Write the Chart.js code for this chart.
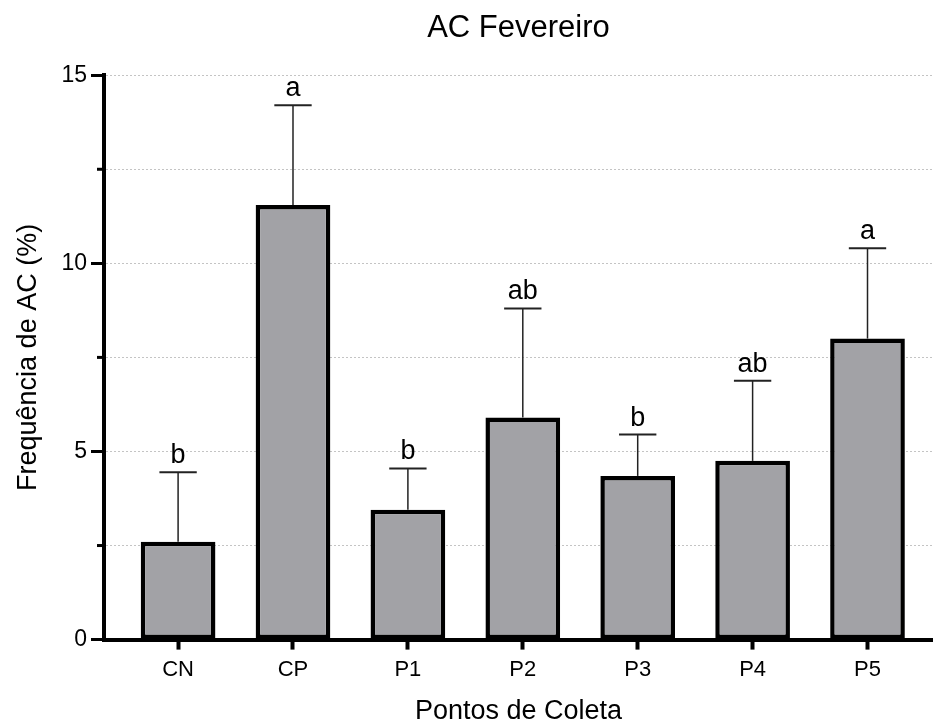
<!DOCTYPE html>
<html>
<head>
<meta charset="utf-8">
<title>AC Fevereiro</title>
<script src="https://cdn.jsdelivr.net/npm/chart.js@4"></script>
<style>
  html, body { margin: 0; padding: 0; background: #fff; }
  #chart { display: block; }
</style>
</head>
<body>
<canvas id="chart" width="933" height="725"></canvas>
<script>
// sampling points, mean frequency, SD and the letter groups
var labels = ['CN', 'CP', 'P1', 'P2', 'P3', 'P4', 'P5'];
var means = [2.6, 11.55, 3.45, 5.9, 4.35, 4.75, 8.0];
var sd = [1.85, 2.65, 1.1, 2.9, 1.1, 2.13, 2.4];
var groups = ['b', 'a', 'b', 'ab', 'b', 'ab', 'a'];
var yTicks = [0, 2.5, 5, 7.5, 10, 12.5, 15];

var FONT = '"Liberation Sans", Arial, Helvetica, sans-serif';
var BAR_FILL = '#a2a2a6';

// upper SD whiskers plus the letter above each one
var errorBars = {
  id: 'errorBars',
  afterDatasetsDraw: function (chart) {
    var ctx = chart.ctx;
    var y = chart.scales.y;
    var bars = chart.getDatasetMeta(0).data;
    ctx.save();
    bars.forEach(function (bar, i) {
      var top = y.getPixelForValue(means[i] + sd[i]);
      var half = bar.width / 4;
      ctx.strokeStyle = '#222';
      ctx.lineWidth = 1.5;
      ctx.beginPath();
      ctx.moveTo(bar.x, bar.y);
      ctx.lineTo(bar.x, top);
      ctx.stroke();
      ctx.lineWidth = 2;
      ctx.beginPath();
      ctx.moveTo(bar.x - half, top);
      ctx.lineTo(bar.x + half, top);
      ctx.stroke();
      ctx.fillStyle = '#000';
      ctx.font = '27px ' + FONT;
      ctx.textAlign = 'center';
      ctx.textBaseline = 'alphabetic';
      ctx.fillText(groups[i], bar.x, top - 9);
    });
    ctx.restore();
  }
};

// short unlabeled ticks between the numbered ones
var minorTicks = {
  id: 'minorTicks',
  afterDraw: function (chart) {
    var ctx = chart.ctx;
    var y = chart.scales.y;
    var left = chart.chartArea.left;
    ctx.save();
    ctx.strokeStyle = '#000';
    ctx.lineWidth = 3;
    y.ticks.forEach(function (t) {
      if (t.value % 5 === 0) return;
      var py = y.getPixelForValue(t.value);
      ctx.beginPath();
      ctx.moveTo(left - 7, py);
      ctx.lineTo(left, py);
      ctx.stroke();
    });
    ctx.restore();
  }
};

new Chart(document.getElementById('chart'), {
  type: 'bar',
  data: {
    datasets: [{
      data: means.map(function (v, i) { return { x: i, y: v }; }),
      backgroundColor: BAR_FILL,
      borderColor: '#000',
      borderWidth: 4.5,
      borderSkipped: false,
      barPercentage: 0.65,
      categoryPercentage: 1
    }]
  },
  plugins: [errorBars, minorTicks],
  options: {
    responsive: false,
    animation: false,
    layout: { padding: { left: 8, right: 0, top: 0, bottom: 0 } },
    plugins: {
      legend: { display: false },
      tooltip: { enabled: false },
      title: {
        display: true,
        text: 'AC Fevereiro',
        fullSize: false,
        color: '#000',
        font: { family: FONT, size: 31, weight: 'normal' },
        padding: { top: 10, bottom: 28 }
      }
    },
    scales: {
      x: {
        type: 'linear',
        offset: false,
        min: -0.645,
        max: 6.57,
        afterBuildTicks: function (scale) {
          scale.ticks = labels.map(function (l, i) { return { value: i }; });
        },
        ticks: {
          autoSkip: false,
          maxRotation: 0,
          padding: 7,
          color: '#000',
          font: { family: FONT, size: 22 },
          callback: function (v) { return labels[v]; }
        },
        grid: {
          offset: false,
          drawOnChartArea: false,
          drawTicks: true,
          tickLength: 10,
          tickWidth: 4,
          tickColor: '#000'
        },
        border: { display: true, color: '#000', width: 4 },
        title: {
          display: true,
          text: 'Pontos de Coleta',
          color: '#000',
          font: { family: FONT, size: 27, lineHeight: 1 },
          padding: { top: 8, bottom: 0 }
        }
      },
      y: {
        min: 0,
        max: 15,
        afterBuildTicks: function (scale) {
          scale.ticks = yTicks.map(function (v) { return { value: v }; });
        },
        ticks: {
          padding: 4,
          color: '#000',
          font: { family: FONT, size: 23 },
          callback: function (v) { return v % 5 === 0 ? v : ''; }
        },
        grid: {
          color: '#c4c4c4',
          lineWidth: 1,
          tickLength: 13,
          tickWidth: 3,
          tickColor: function (c) { return c.tick && c.tick.value % 5 === 0 ? '#000' : 'rgba(0,0,0,0)'; }
        },
        border: { display: true, color: '#000', width: 4, dash: [2, 2] },
        title: {
          display: true,
          text: 'Frequência de AC (%)',
          color: '#000',
          font: { family: FONT, size: 27 },
          padding: { top: 4, bottom: 13 }
        }
      }
    }
  }
});
</script>
</body>
</html>
